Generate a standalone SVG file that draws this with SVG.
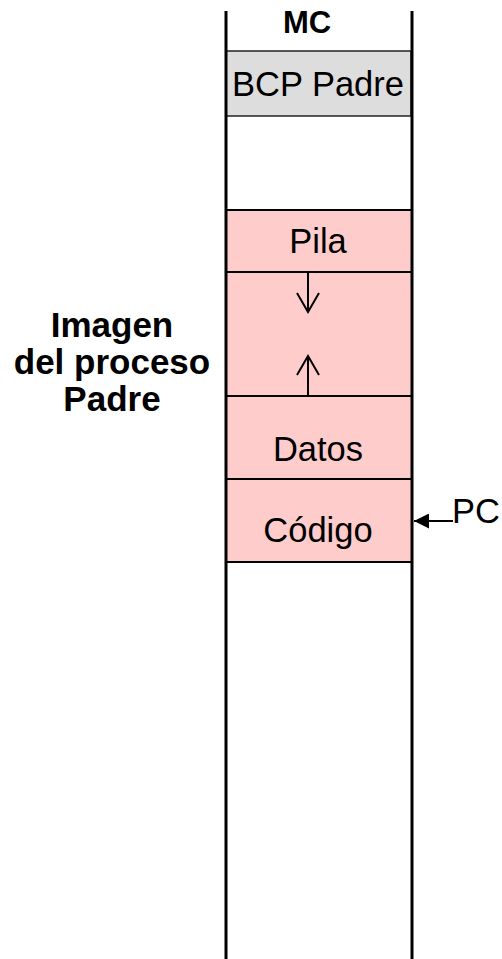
<svg xmlns="http://www.w3.org/2000/svg" width="502" height="959" viewBox="0 0 502 959">
<defs>
<style>
.t{font-family:"Liberation Sans",Arial,sans-serif;font-size:34.5px;fill:#000;text-anchor:middle}
.b{font-weight:bold}
.seg{fill:#ffcccc;stroke:#000;stroke-width:2}
.col{stroke:#000;stroke-width:3;fill:none}
.ar{stroke:#000;stroke-width:2;fill:none}
</style>
<marker id="fh" viewBox="0 0 10 10" refX="10" refY="5" markerWidth="15" markerHeight="15" markerUnits="userSpaceOnUse" orient="auto"><path d="M0,0 L10,5 L0,10 z" fill="#000"/></marker>
</defs>
<rect width="502" height="959" fill="#fff"/>
<g id="bcp">
<rect x="226" y="51" width="185" height="65" fill="#dddddd" stroke="#222" stroke-width="1.5"/>
<text class="t" x="318" y="96">BCP Padre</text>
</g>
<g id="pila">
<rect class="seg" x="226" y="210" width="186" height="62"/>
<text class="t" x="318" y="253">Pila</text>
</g>
<g id="libre">
<rect class="seg" x="226" y="272" width="186" height="124"/>
</g>
<g id="datos">
<rect class="seg" x="226" y="396" width="186" height="83"/>
<text class="t" x="318" y="461">Datos</text>
</g>
<g id="codigo">
<rect class="seg" x="226" y="479" width="186" height="83"/>
<text class="t" x="318" y="542">Código</text>
</g>
<g id="columna">
<line class="col" x1="226" y1="11" x2="226" y2="959"/>
<line class="col" x1="412" y1="11" x2="412" y2="959"/>
<text class="t b" x="307" y="33" style="font-size:31px">MC</text>
</g>
<g id="imagen">
<text class="t b" x="112" y="337" style="font-size:35px">Imagen</text>
<text class="t b" x="112" y="374" style="font-size:35px">del proceso</text>
<text class="t b" x="112" y="411" style="font-size:35px">Padre</text>
</g>
<g id="pc">
<text class="t" x="476" y="523">PC</text>
</g>
<g id="connectors">
<line class="ar" x1="308" y1="272" x2="308" y2="311"/>
<polyline class="ar" points="297,293 308,312 319,293"/>
<line class="ar" x1="308" y1="396" x2="308" y2="357"/>
<polyline class="ar" points="297,375 308,356 319,375"/>
<line x1="453" y1="521" x2="414" y2="521" stroke="#000" stroke-width="2" marker-end="url(#fh)"/>
</g>
</svg>
